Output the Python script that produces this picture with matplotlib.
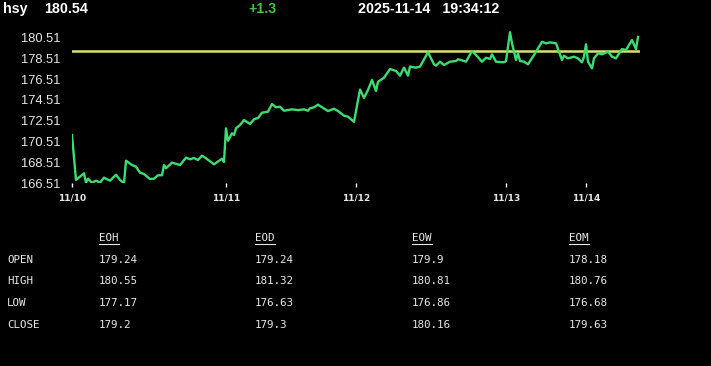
import matplotlib
matplotlib.use("Agg")
import matplotlib.pyplot as plt
from matplotlib.lines import Line2D

# header
symbol = "hsy"
last_price = "180.54"
change = "+1.3"
stamp = "2025-11-14   19:34:12"

# intraday series (bar index, price)
t = [0, 2, 6, 7, 8, 10, 12, 14, 16, 19, 22, 24, 26, 27, 30, 32, 34, 36, 39, 41,
     43, 45, 46, 47, 50, 54, 57, 59, 61, 63, 65, 67, 71, 75, 76, 77, 78, 80, 81, 82,
     84, 86, 89, 91, 93, 95, 98, 100, 102, 104, 106, 110, 113, 116, 118, 119, 121, 123, 125, 128,
     131, 133, 136, 138, 141, 144, 146, 148, 150, 152, 153, 156, 159, 162, 164, 166, 168, 169, 172, 174,
     178, 181, 182, 184, 186, 189, 192, 193, 195, 197, 200, 202, 205, 207, 209, 210, 212, 216, 217, 219,
     220, 222, 223, 224, 226, 228, 231, 233, 235, 237, 239, 242, 243, 245, 246, 248, 251, 253, 255, 256,
     257, 258, 260, 261, 263, 265, 268, 270, 272, 273, 275, 277, 280, 282, 283]
price = [171.14, 166.83, 167.47, 166.57, 166.95, 166.57, 166.76, 166.57, 167.05, 166.76,
         167.33, 166.83, 166.51, 168.68, 168.26, 168.10, 167.53, 167.40, 166.92, 166.95,
         167.28, 167.28, 168.26, 167.95, 168.49, 168.26, 168.97, 168.81, 168.94, 168.74,
         169.16, 168.91, 168.33, 168.87, 168.55, 171.78, 170.59, 171.30, 171.14, 171.78,
         172.10, 172.58, 172.20, 172.65, 172.77, 173.28, 173.38, 174.11, 173.80, 173.85,
         173.47, 173.60, 173.53, 173.60, 173.47, 173.70, 173.80, 174.05, 173.80, 173.44,
         173.66, 173.44, 172.99, 172.90, 172.40, 175.50, 174.70, 175.46, 176.42, 175.36,
         176.25, 176.63, 177.47, 177.28, 176.83, 177.60, 176.83, 177.70, 177.60, 177.70,
         179.07, 177.92, 177.79, 178.17, 177.85, 178.17, 178.24, 178.40, 178.30, 178.17,
         179.19, 178.81, 178.17, 178.55, 178.43, 178.88, 178.17, 178.11, 178.24, 181.00,
         179.93, 178.33, 178.97, 178.24, 178.17, 177.92, 178.81, 179.44, 180.08, 179.93,
         180.02, 179.93, 179.38, 178.33, 178.74, 178.49, 178.65, 178.49, 178.11, 178.65,
         179.84, 178.17, 177.54, 178.49, 178.97, 178.88, 179.13, 178.65, 178.49, 178.81,
         179.38, 179.29, 180.25, 179.38, 180.54]
prev_close = 179.24

day_pos = [0, 77, 142, 217, 257]
day_labels = ["11/10", "11/11", "11/12", "11/13", "11/14"]
y_ticks = [166.51, 168.51, 170.51, 172.51, 174.51, 176.51, 178.51, 180.51]

# summary table
row_names = ["OPEN", "HIGH", "LOW", "CLOSE"]
col_names = ["EOH", "EOD", "EOW", "EOM"]
eoh = ["179.24", "180.55", "177.17", "179.2"]
eod = ["179.24", "181.32", "176.63", "179.3"]
eow = ["179.9", "180.81", "176.86", "180.16"]
eom = ["178.18", "180.76", "176.68", "179.63"]

W, H = 711, 366
fig = plt.figure(figsize=(W / 100, H / 100), dpi=100, facecolor="black")

def fx(px):
    return px / W

def fy(py):
    return 1 - py / H

# header line
hfont = dict(family="Liberation Sans", weight="bold", fontsize=10.3, va="center")
fig.text(fx(3), fy(9), symbol, color="white", **hfont)
fig.text(fx(44), fy(9), last_price, color="white", **hfont)
fig.text(fx(248), fy(9), change, color="#3cc63c", **hfont)
fig.text(fx(358), fy(9), stamp, color="white", **hfont)

# chart
ax = fig.add_axes([fx(72), fy(183.3), fx(568), 153.2 / H])
ax.set_facecolor("black")
ax.plot(t, price, color="#3ddc72", lw=1.7, solid_joinstyle="round", zorder=3)
ax.axhline(prev_close, color="#d8e070", lw=1.8, zorder=2)
ax.set_xlim(0, 284)
ax.set_ylim(166.51, 181.2)
for s in ax.spines.values():
    s.set_visible(False)
ax.set_yticks(y_ticks)
ax.set_yticklabels(["%.2f" % v for v in y_ticks])
ax.set_xticks(day_pos)
ax.set_xticklabels(day_labels)
ax.tick_params(axis="y", length=0, pad=8.6, labelsize=9.3, labelcolor="#e6e6e6")
ax.tick_params(axis="x", length=3, width=1, color="white", pad=4,
               labelsize=6.5, labelcolor="#e6e6e6")
for lab in ax.get_yticklabels():
    lab.set_family("Liberation Sans")
for lab in ax.get_xticklabels():
    lab.set_family("DejaVu Sans")
    lab.set_weight("bold")

# table
tfont = dict(family="DejaVu Sans Mono", fontsize=7.8, color="#e8e8e8", va="center")
col_x = [99, 255, 412, 569]
row_y = [259.7, 280.5, 302.5, 324.5]
head_y = 238.3
cols = [eoh, eod, eow, eom]
heads = []
for cx, name, vals in zip(col_x, col_names, cols):
    heads.append(fig.text(fx(cx), fy(head_y), name, **tfont))
    for ry, v in zip(row_y, vals):
        fig.text(fx(cx), fy(ry), v, **tfont)
for ry, name in zip(row_y, row_names):
    fig.text(fx(7), fy(ry), name, **tfont)

fig.canvas.draw()
renderer = fig.canvas.get_renderer()
for h in heads:
    bb = h.get_window_extent(renderer).transformed(fig.transFigure.inverted())
    uy = fy(244.3)
    fig.add_artist(Line2D([bb.x0, bb.x1], [uy, uy], color="#e8e8e8", lw=0.8,
                          transform=fig.transFigure))

fig.savefig("out.png", dpi=100, facecolor="black")
